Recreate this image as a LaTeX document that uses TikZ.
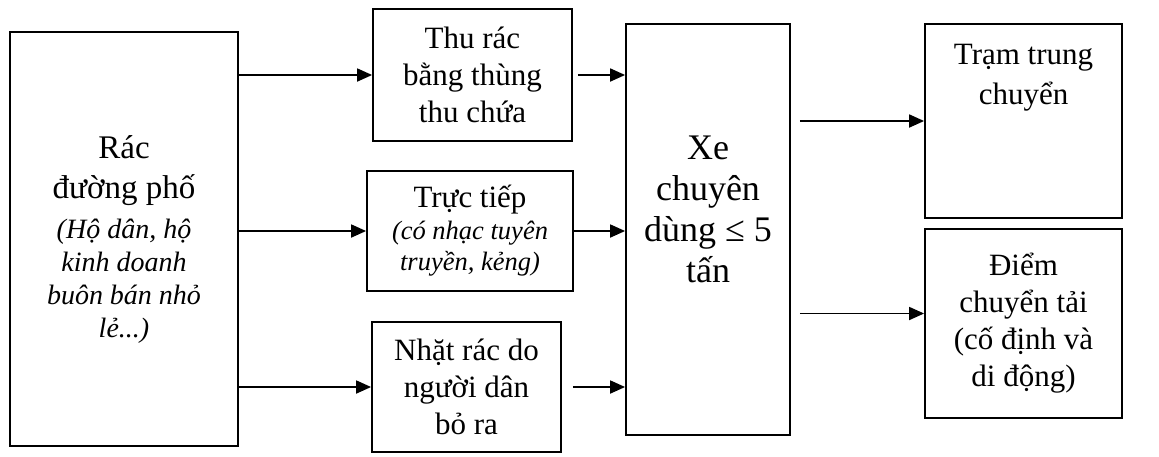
\documentclass[tikz,border=0pt]{standalone}
\usepackage{fontspec}
\setmainfont{Liberation Serif}
\usetikzlibrary{positioning, arrows.meta, calc}

% small italic lines inside the boxes
\newcommand{\smit}[1]{\fontsize{#1}{#1}\selectfont\itshape}

\begin{document}
\begin{tikzpicture}[x=1pt, y=-1pt,
    box/.style={draw, line width=1.8pt, align=center, inner sep=2pt,
      font=\fontsize{31}{37}\selectfont},
    txt/.style={align=center, inner sep=0pt},
    arr/.style={line width=1.8pt, -{Triangle[length=15pt,width=13pt]}}]

        % Frame
        \useasboundingbox (0,0) rectangle (1159,456);

        % Source of waste
        \node[box, minimum width=228pt, minimum height=414pt,
          font=\fontsize{33}{40}\selectfont] (src) at (124,239)
          {Rác\\đường phố\\\smit{28}(Hộ dân, hộ\\[-7pt]\smit{28}kinh doanh\\[-7pt]
           \smit{28}buôn bán nhỏ\\[-7pt]\smit{28}lẻ...)};

        % Ways of collecting
        \node[box, minimum width=199pt, minimum height=132pt] (thu) at (472.5,75)
          {Thu rác\\bằng thùng\\thu chứa};
        \node[box, minimum width=206pt, minimum height=120pt] (truc) at (470,231)
          {Trực tiếp\\[-5pt]\smit{26.5}(có nhạc tuyên\\[-6pt]\smit{26.5}truyền, kẻng)};
        \node[box, minimum width=189pt, minimum height=130pt] (nhat) at (466.5,387)
          {Nhặt rác do\\người dân\\bỏ ra};

        % Truck
        \node[box, minimum width=164pt, minimum height=411pt,
          label={[txt, font=\fontsize{36}{41}\selectfont, yshift=20pt]center:Xe\\chuyên\\dùng ≤ 5\\tấn}]
          (xe) at (708,229.5) {};

        % Destinations
        \node[box, minimum width=197pt, minimum height=194pt,
          label={[txt, font=\fontsize{31}{40}\selectfont, anchor=north, yshift=-21pt]north:Trạm trung\\chuyển}]
          (tram) at (1023.5,121) {};
        \node[box, minimum width=197pt, minimum height=189pt] (diem) at (1023.5,323.5)
          {Điểm\\chuyển tải\\(cố định và\\di động)};

        % Arrows
        \foreach \n in {thu, truc, nhat}
          \draw[arr] (\n.west -| src.east) -- (\n.west);
        \foreach \n/\g in {thu/5, truc/0, nhat/11}
          \draw[arr, shorten <=\g pt] (\n.east) -- (\n.east -| xe.west);
        \draw[arr, shorten <=9pt] (tram.west -| xe.east) -- (tram.west);
        \draw[arr, shorten <=9pt] ([yshift=10pt]diem.west -| xe.east) -- ([yshift=10pt]diem.west);

\end{tikzpicture}
\end{document}
